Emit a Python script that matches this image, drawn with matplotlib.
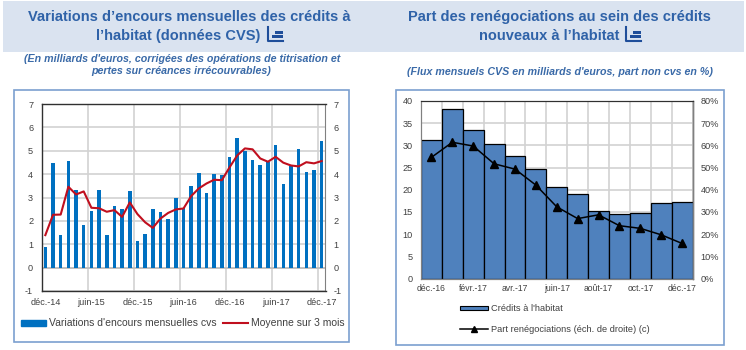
"""Crédits à l'habitat: deux graphiques côte à côte."""
import matplotlib
matplotlib.use("Agg")
import matplotlib.pyplot as plt
import numpy as np
from matplotlib.lines import Line2D
from matplotlib.patches import Patch, Rectangle

plt.rcParams["font.family"] = ["Liberation Sans", "DejaVu Sans"]
plt.rcParams["axes.unicode_minus"] = False

W, H = 746, 350

# graphique de gauche
encours_labels = ["déc.-14", "juin-15", "déc.-15", "juin-16", "déc.-16", "juin-17", "déc.-17"]
encours_mensuels = [0.89, 4.49, 1.41, 4.57, 3.34, 1.83, 2.44, 3.34, 1.39, 2.64, 2.51, 3.26, 1.13,
                    1.43, 2.49, 2.37, 2.06, 3.00, 2.53, 3.51, 4.04, 3.20, 4.00, 3.96, 4.74, 5.56,
                    4.97, 4.60, 4.40, 4.53, 5.24, 3.56, 4.33, 5.09, 4.10, 4.17, 5.41]
moyenne_3_mois = [1.39, 2.26, 2.27, 3.46, 3.13, 3.26, 2.56, 2.54, 2.39, 2.46, 2.17, 2.79, 2.29,
                  1.94, 1.70, 2.10, 2.34, 2.49, 2.53, 3.06, 3.39, 3.60, 3.76, 3.74, 4.29, 4.80,
                  5.10, 5.06, 4.67, 4.53, 4.74, 4.49, 4.37, 4.33, 4.51, 4.46, 4.56]

# graphique de droite
mois_labels = ["déc.-16", "févr.-17", "avr.-17", "juin-17", "août-17", "oct.-17", "déc.-17"]
credits_habitat = [31.2, 38.2, 33.5, 30.3, 27.6, 24.7, 20.6, 19.0, 15.2, 14.5, 14.7, 17.0, 17.2]
part_renego = [54.6, 61.4, 59.7, 51.7, 49.3, 42.1, 32.3, 27.0, 28.7, 23.8, 22.6, 19.7, 15.8]

TITLE_BLUE = "#2F62A8"
SUB_BLUE = "#3A6AA8"
BAND = "#DAE3F0"
FRAME = "#7BA0CF"
GRID = "#D2D2D2"
TXT = "#404040"


def px_axes(fig, x0, y0, x1, y1):
    return fig.add_axes([x0 / W, 1 - y1 / H, (x1 - x0) / W, (y1 - y0) / H])


def px_rect(fig, x0, y0, x1, y1, **kw):
    fig.add_artist(Rectangle((x0 / W, 1 - y1 / H), (x1 - x0) / W, (y1 - y0) / H,
                             transform=fig.transFigure, zorder=-1, **kw))


def px_text(fig, x, y, s, **kw):
    fig.text(x / W, 1 - y / H, s, ha="center", va="center", **kw)


def icon(fig, x, y):
    # petit pictogramme à droite du titre
    c = "#1F4E9A"
    fig.add_artist(Line2D([x / W, x / W, (x + 15) / W], [1 - y / H, 1 - (y + 14) / H, 1 - (y + 14) / H],
                          color=c, lw=1.5, transform=fig.transFigure))
    px_rect(fig, x + 4, y + 8, x + 15, y + 11, color=c, lw=0)
    px_rect(fig, x + 7, y + 4, x + 15, y + 7, color=c, lw=0)


fig = plt.figure(figsize=(W / 100, H / 100), dpi=100)

# bandeaux et cadres
px_rect(fig, 3, 1, 373, 52, color=BAND, lw=0)
px_rect(fig, 373, 1, 744, 52, color=BAND, lw=0)
px_rect(fig, 13.5, 89.5, 349, 342, fc="white", ec=FRAME, lw=1.2)
px_rect(fig, 395.5, 89.5, 724, 345, fc="white", ec=FRAME, lw=1.2)

px_text(fig, 189, 17, "Variations d’encours mensuelles des crédits à", color=TITLE_BLUE, fontsize=10.5, fontweight="bold")
px_text(fig, 178, 36, "l’habitat (données CVS)", color=TITLE_BLUE, fontsize=10.5, fontweight="bold")
px_text(fig, 559.5, 17, "Part des renégociations au sein des crédits", color=TITLE_BLUE, fontsize=10.5, fontweight="bold")
px_text(fig, 549, 36, "nouveaux à l’habitat", color=TITLE_BLUE, fontsize=10.5, fontweight="bold")
icon(fig, 268, 27)
icon(fig, 626, 27)

sub = dict(color=SUB_BLUE, fontsize=7.7, fontweight="bold", fontstyle="italic")
px_text(fig, 182, 59, "(En milliards d'euros, corrigées des opérations de titrisation et", **sub)
px_text(fig, 181, 71, "pertes sur créances irrécouvrables)", **sub)
px_text(fig, 559.5, 72, "(Flux mensuels CVS en milliards d'euros, part non cvs en %)", **sub)

# --- gauche ---
ax = px_axes(fig, 41.5, 104, 325.5, 291)
x = np.arange(len(encours_mensuels))
ax.bar(x, encours_mensuels, width=0.46, color="#0070C0", zorder=3)
ax.plot(x, moyenne_3_mois, color="#C00F1E", lw=1.5, zorder=4)
ax.axhline(0, color="#BDBDBD", lw=1.2, zorder=2)
ax.set_xlim(-0.5, len(x) - 0.5)
ax.set_ylim(-1, 7)
ax.set_yticks(range(-1, 8))
ax.set_xticks(np.arange(0, len(x), 6), encours_labels)
ax.set_xticks(np.arange(-0.5, len(x), 6), minor=True)
ax.grid(axis="y", color=GRID, lw=1.2, zorder=0)
ax.grid(axis="x", which="minor", color=GRID, lw=1.2, zorder=0)
ax.tick_params(axis="x", which="both", length=0, labelsize=6.6, labelcolor=TXT, pad=5)
ax.tick_params(axis="y", length=0, labelsize=6.6, labelcolor=TXT, labelright=True, pad=6)
for side in ["left", "top", "bottom"]:
    ax.spines[side].set_color("#303030")
    ax.spines[side].set_linewidth(1.0)
ax.spines["right"].set_color("#808080")

fig.legend(handles=[Patch(color="#0070C0", label="Variations d'encours mensuelles cvs"),
                    Line2D([], [], color="#C00F1E", lw=1.5, label="Moyenne sur 3 mois")],
           loc="center", bbox_to_anchor=(183 / W, 1 - 323.5 / H), ncols=2, frameon=False,
           fontsize=7.5, labelcolor=TXT, handlelength=2.4, handleheight=0.6, handletextpad=0.3,
           columnspacing=0.6, borderpad=0, borderaxespad=0)

# --- droite ---
ax2 = px_axes(fig, 421, 101, 692.5, 278.5)
x2 = np.arange(len(credits_habitat))
ax2.bar(x2, credits_habitat, width=1.0, color="#4F81BD", edgecolor="black", lw=0.9, zorder=3)
ax2.set_xlim(-0.5, len(x2) - 0.5)
ax2.set_ylim(0, 40)
ax2.set_yticks(range(0, 41, 5))
ax2.set_xticks(np.arange(0, len(x2), 2), mois_labels)
ax2.set_xticks(np.arange(-0.5, len(x2), 1), minor=True)
ax2.grid(axis="y", color=GRID, lw=1.2, zorder=0)
ax2.grid(axis="x", which="minor", color=GRID, lw=1.2, zorder=0)
ax2.tick_params(axis="x", which="both", length=0, labelsize=6.2, labelcolor=TXT, pad=4)
ax2.tick_params(axis="y", length=0, labelsize=6.6, labelcolor=TXT, pad=6)
ax2.set_axisbelow(True)

axr = ax2.twinx()
axr.plot(x2, part_renego, color="black", lw=1.1, marker="^", ms=6, zorder=5)
axr.set_ylim(0, 80)
axr.set_yticks(range(0, 81, 10), [f"{v}%" for v in range(0, 81, 10)])
axr.tick_params(axis="y", length=0, labelsize=6.6, labelcolor=TXT, pad=6)
for a in (ax2, axr):
    for side in ["left", "bottom", "right"]:
        a.spines[side].set_color("#808080")
    a.spines["top"].set_color("#303030")
    a.spines["right"].set_linewidth(1.0)

fig.legend(handles=[Patch(fc="#4F81BD", ec="black", lw=0.8, label="Crédits à l'habitat"),
                    Line2D([], [], color="black", lw=1.1, marker="^", ms=4,
                           label="Part renégociations (éch. de droite) (c)")],
           loc="upper left", bbox_to_anchor=(460 / W, 1 - 304 / H), ncols=1, frameon=False,
           fontsize=6.7, labelcolor=TXT, handlelength=3.0, handleheight=0.3, handletextpad=0.3,
           labelspacing=1.25, borderpad=0, borderaxespad=0)

fig.savefig("out.png", dpi=100)
